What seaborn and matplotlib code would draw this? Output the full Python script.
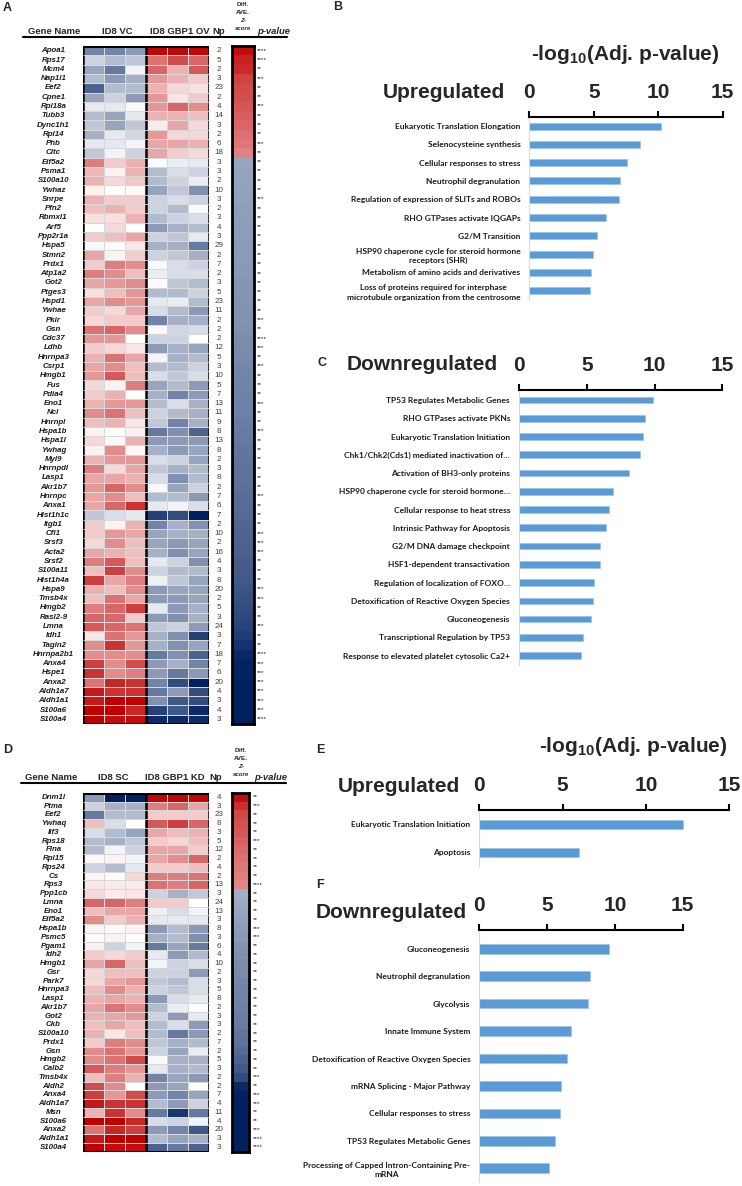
import numpy as np
import pandas as pd
import seaborn as sns
import matplotlib.pyplot as plt
from matplotlib import transforms
from matplotlib.colors import LinearSegmentedColormap

sns.set_theme(style='white')
plt.rcParams['font.family'] = ['Liberation Sans', 'DejaVu Sans']
plt.rcParams['mathtext.fontset'] = 'custom'
plt.rcParams['mathtext.rm'] = 'Liberation Sans'
plt.rcParams['mathtext.bf'] = 'Liberation Sans:bold'

# ---------------- data: heatmap A (ID8 VC vs ID8 GBP1 OV) ----------------
genes_a = ['Apoa1', 'Rps17', 'Mcm4', 'Nap1l1', 'Eef2', 'Cpne1', 'Rpl18a', 'Tubb3',
           'Dync1h1', 'Rpl14', 'Phb', 'Cltc', 'Eif5a2', 'Psma1', 'S100a10', 'Ywhaz',
           'Snrpe', 'Pfn2', 'Rbmxl1', 'Arf5', 'Ppp2r1a', 'Hspa5', 'Stmn2', 'Prdx1',
           'Atp1a2', 'Got2', 'Ptges3', 'Hspd1', 'Ywhae', 'Pkir', 'Gsn', 'Cdc37',
           'Ldhb', 'Hnrnpa3', 'Csrp1', 'Hmgb1', 'Fus', 'Pdia4', 'Eno1', 'Ncl',
           'Hnrnpl', 'Hspa1b', 'Hspa1l', 'Ywhag', 'Myl9', 'Hnrnpdl', 'Lasp1', 'Akr1b7',
           'Hnrnpc', 'Anxa1', 'Hist1h1c', 'Itgb1', 'Cfl1', 'Srsf3', 'Acta2', 'Srsf2',
           'S100a11', 'Hist1h4a', 'Hspa9', 'Tmsb4x', 'Hmgb2', 'Rasl2-9', 'Lmna', 'Idh1',
           'Tagln2', 'Hnrnpa2b1', 'Anxa4', 'Hspe1', 'Anxa2', 'Aldh1a7', 'Aldh1a1',
           'S100a6', 'S100a4']
np_a = [2, 5, 2, 3, 23, 2, 4, 14, 3, 2, 6, 18, 3, 3, 2, 10, 3, 2, 3, 4, 3, 29, 2, 7,
        2, 3, 5, 23, 11, 2, 2, 2, 12, 5, 3, 10, 5, 7, 13, 11, 9, 8, 13, 8, 2, 3, 8, 2,
        7, 6, 7, 2, 10, 2, 16, 4, 3, 8, 20, 2, 5, 3, 24, 3, 7, 18, 7, 6, 20, 4, 3, 4, 3]
pval_a = ['****', '****', '**', '***', '**', '**', '***', '**', '**', '**', '***', '**',
          '**', '**', '**', '**', '***', '**', '**', '**', '**', '**', '**', '**',
          '**', '**', '**', '**', '**', '***', '**', '****', '***', '**', '***', '**',
          '**', '**', '***', '**', '**', '***', '**', '**', '**', '**', '**', '**',
          '***', '**', '**', '**', '***', '***', '***', '**', '**', '**', '***', '***',
          '**', '**', '***', '**', '**', '****', '***', '***', '***', '***', '***',
          '***', '****']
# row z-scores: 3 x ID8 VC, 3 x ID8 GBP1 OV
expr_a = [
    [-0.55, -0.55, -0.45, 0.97, 0.97, 0.97], [-0.2, -0.3, -0.25, 0.55, 0.7, 0.6],
    [-0.4, -0.6, -0.05, 0.6, 0.3, 0.65], [-0.3, -0.45, -0.35, 0.4, 0.3, 0.2],
    [-0.7, -0.3, -0.3, 0.3, 0.15, 0.12], [-0.4, -0.2, -0.45, 0.4, 0.1, 0.2],
    [-0.1, -0.1, -0.03, 0.4, 0.6, 0.45], [-0.3, -0.4, -0.1, 0.3, 0.3, 0.25],
    [-0.25, -0.4, -0.25, 0.08, 0.35, 0.15], [-0.35, -0.1, -0.18, 0.4, 0.15, 0.15],
    [-0.1, -0.1, -0.05, 0.35, 0.35, 0.3], [-0.25, -0.05, -0.2, 0.35, 0.2, 0.15],
    [0.5, 0.2, 0.3, -0.02, -0.08, -0.1], [0.28, 0.05, 0.3, -0.3, -0.15, -0.2],
    [0.3, 0.15, 0.22, -0.3, -0.2, -0.08], [0.05, 0.0, 0.02, -0.4, -0.25, -0.5],
    [0.3, 0.2, 0.2, -0.2, -0.15, -0.2], [0.25, 0.3, 0.2, -0.2, -0.3, -0.03],
    [0.12, 0.12, 0.3, -0.3, -0.2, -0.15], [0.0, 0.15, 0.0, -0.45, -0.35, -0.3],
    [0.2, 0.25, 0.35, -0.2, -0.25, -0.1], [-0.03, -0.02, 0.1, -0.35, -0.35, -0.6],
    [0.35, 0.05, 0.2, -0.2, -0.25, -0.35], [0.2, 0.5, 0.45, -0.03, -0.15, -0.2],
    [0.5, 0.45, 0.25, -0.08, -0.15, -0.15], [0.35, 0.4, 0.45, 0.02, -0.25, -0.3],
    [0.12, 0.25, 0.4, -0.3, -0.3, -0.2], [0.35, 0.45, 0.4, -0.1, -0.08, -0.3],
    [0.2, 0.15, 0.35, -0.15, -0.3, -0.45], [0.15, 0.2, 0.2, -0.55, -0.35, -0.35],
    [0.55, 0.6, 0.45, 0.03, -0.18, -0.15], [0.4, 0.4, 0.0, -0.2, -0.2, 0.0],
    [0.2, 0.15, 0.1, -0.45, -0.35, -0.4], [0.3, 0.55, 0.35, -0.05, -0.35, -0.3],
    [0.35, 0.45, 0.25, -0.3, -0.3, -0.2], [0.4, 0.65, 0.25, -0.15, -0.25, -0.15],
    [0.15, 0.05, 0.5, -0.4, -0.3, -0.45], [0.2, 0.3, 0.0, -0.35, -0.55, -0.45],
    [0.3, 0.4, 0.4, -0.3, -0.15, -0.35], [0.45, 0.55, 0.25, -0.2, -0.3, -0.35],
    [0.25, 0.3, 0.1, -0.25, -0.55, -0.35], [0.05, 0.0, 0.07, -0.6, -0.5, -0.7],
    [0.15, -0.03, 0.3, -0.45, -0.45, -0.45], [0.05, 0.45, 0.02, -0.35, -0.45, -0.4],
    [0.3, 0.4, 0.4, -0.15, -0.2, -0.4], [0.5, 0.15, 0.35, -0.25, -0.35, -0.3],
    [0.35, 0.35, 0.3, -0.15, -0.5, -0.3], [0.4, 0.6, 0.45, -0.03, -0.4, -0.2],
    [0.35, 0.45, 0.25, -0.3, -0.3, -0.45], [0.35, 0.6, 0.8, -0.1, -0.05, -0.15],
    [-0.25, -0.15, -0.1, -0.85, -0.8, -1.0], [0.2, 0.05, 0.3, -0.55, -0.35, -0.5],
    [0.2, 0.4, 0.35, -0.4, -0.35, -0.35], [0.15, 0.45, 0.25, -0.4, -0.45, -0.4],
    [0.35, 0.3, 0.25, -0.35, -0.5, -0.4], [0.5, 0.65, 0.25, -0.1, -0.2, -0.5],
    [0.25, 0.75, 0.45, -0.2, -0.3, -0.3], [0.75, 0.35, 0.5, -0.07, -0.25, -0.4],
    [0.3, 0.25, 0.45, -0.45, -0.4, -0.4], [0.25, 0.55, 0.35, -0.45, -0.45, -0.4],
    [0.5, 0.6, 0.75, -0.1, -0.45, -0.35], [0.6, 0.6, 0.2, -0.45, -0.5, -0.35],
    [0.65, 0.6, 0.55, -0.25, -0.2, -0.45], [0.1, 0.55, 0.4, -0.35, -0.5, -0.85],
    [0.45, 0.8, 0.4, -0.35, -0.5, -0.4], [0.45, 0.45, 0.45, -0.6, -0.5, -0.7],
    [0.75, 0.45, 0.7, -0.45, -0.35, -0.55], [0.8, 0.45, 0.5, -0.45, -0.6, -0.45],
    [0.55, 0.85, 0.8, -0.55, -0.8, -1.0], [0.9, 0.8, 0.8, -0.6, -0.45, -0.8],
    [0.9, 1.0, 1.0, -0.5, -0.75, -0.8], [1.0, 1.0, 0.85, -0.85, -0.75, -0.95],
    [1.0, 0.95, 0.95, -0.95, -0.95, -0.95]]
diff_a = [0.95, 0.86, 0.83, 0.74, 0.71, 0.69, 0.66, 0.63, 0.6, 0.56, 0.53, 0.49,
          -0.40, -0.41, -0.41, -0.42, -0.42, -0.43, -0.43, -0.44, -0.44, -0.45, -0.45,
          -0.46, -0.46, -0.47, -0.47, -0.48, -0.49, -0.49, -0.50, -0.51, -0.52, -0.53,
          -0.54, -0.55, -0.55, -0.56, -0.57, -0.57, -0.58, -0.59, -0.60, -0.61, -0.62,
          -0.63, -0.63, -0.64, -0.65, -0.66, -0.67, -0.68, -0.69, -0.70, -0.71, -0.72,
          -0.73, -0.74, -0.76, -0.78, -0.80, -0.82, -0.84, -0.87, -0.91, -0.96, -0.98,
          -0.99, -1.0, -1.0, -1.0, -1.0, -1.0]

# ---------------- data: heatmap D (ID8 SC vs ID8 GBP1 KD) ----------------
genes_d = ['Dnm1l', 'Ptma', 'Eef2', 'Ywhaq', 'Ilf3', 'Rps18', 'Flna', 'Rpl15', 'Rps24',
           'Cs', 'Rps3', 'Ppp1cb', 'Lmna', 'Eno1', 'Eif5a2', 'Hspa1b', 'Psmc5', 'Pgam1',
           'Idh2', 'Hmgb1', 'Gsr', 'Park7', 'Hnrnpa3', 'Lasp1', 'Akr1b7', 'Got2', 'Ckb',
           'S100a10', 'Prdx1', 'Gsn', 'Hmgb2', 'Calb2', 'Tmsb4x', 'Aldh2', 'Anxa4',
           'Aldh1a7', 'Msn', 'S100a6', 'Anxa2', 'Aldh1a1', 'S100a4']
np_d = [4, 3, 23, 8, 3, 5, 12, 2, 4, 2, 13, 3, 24, 13, 3, 8, 3, 6, 4, 10, 2, 3, 5, 8, 2,
        3, 3, 2, 7, 2, 5, 3, 2, 2, 7, 4, 11, 4, 20, 3, 3]
pval_d = ['**', '***', '**', '**', '**', '***', '**', '**', '**', '**', '****', '**',
          '**', '**', '**', '***', '***', '**', '**', '**', '**', '**', '**', '**', '**',
          '**', '**', '**', '**', '**', '**', '**', '***', '**', '***', '***', '**', '**',
          '***', '****', '****']
expr_d = [
    [-0.45, -1.0, -1.0, 0.97, 0.97, 0.97], [-0.2, -0.35, -0.35, 0.5, 0.6, 0.35],
    [-0.6, -0.3, -0.3, 0.2, 0.2, 0.2], [0.25, -0.15, 0.0, 0.65, 0.75, 0.6],
    [-0.15, -0.3, -0.4, 0.35, 0.25, 0.3], [-0.3, -0.35, -0.25, 0.2, 0.15, 0.25],
    [-0.3, -0.05, -0.2, 0.35, 0.35, 0.2], [0.03, 0.05, -0.05, 0.35, 0.45, 0.6],
    [-0.2, -0.3, -0.1, 0.2, 0.2, 0.25], [0.05, -0.02, 0.15, 0.5, 0.5, 0.55],
    [0.1, 0.08, 0.08, 0.55, 0.5, 0.6], [0.15, 0.08, 0.1, -0.2, -0.35, -0.25],
    [0.6, 0.6, 0.5, 0.2, 0.2, 0.0], [0.25, 0.35, 0.35, -0.07, -0.15, -0.05],
    [0.45, 0.2, 0.3, -0.1, -0.1, -0.1], [0.05, -0.02, 0.05, -0.45, -0.3, -0.45],
    [0.02, 0.05, 0.0, -0.35, -0.3, -0.5], [0.07, -0.2, -0.05, -0.6, -0.4, -0.6],
    [0.2, 0.15, 0.2, -0.1, -0.45, -0.3], [0.35, 0.6, 0.25, -0.05, -0.2, -0.15],
    [0.15, 0.25, 0.25, -0.2, -0.2, -0.45], [0.15, 0.35, 0.4, -0.25, -0.3, -0.15],
    [0.25, 0.45, 0.3, -0.2, -0.25, -0.15], [0.3, 0.35, 0.3, -0.45, -0.15, -0.1],
    [0.35, 0.55, 0.45, -0.3, -0.08, 0.0], [0.3, 0.35, 0.4, -0.2, -0.45, -0.1],
    [0.25, 0.35, 0.25, -0.3, -0.15, -0.45], [0.3, 0.1, 0.25, -0.3, -0.6, -0.45],
    [0.2, 0.5, 0.45, -0.25, -0.35, -0.3], [0.45, 0.55, 0.4, -0.2, -0.4, -0.08],
    [0.45, 0.55, 0.7, -0.03, -0.35, -0.35], [0.65, 0.5, 0.4, -0.1, -0.35, -0.3],
    [0.25, 0.5, 0.3, -0.55, -0.4, -0.45], [0.7, 0.45, 0.0, -0.45, -0.4, 0.0],
    [0.75, 0.4, 0.7, -0.45, -0.55, -0.4], [0.9, 0.8, 0.8, -0.3, -0.45, -0.2],
    [0.3, 0.8, 0.45, -0.6, -0.9, -0.6], [1.0, 1.0, 0.85, -0.15, -0.2, -0.05],
    [0.55, 0.85, 0.75, -0.45, -0.55, -0.75], [0.9, 1.0, 1.0, -0.3, -0.4, -0.35],
    [1.0, 0.95, 0.95, -0.7, -0.6, -0.7]]
diff_d = [0.95, 0.82, 0.72, 0.68, 0.66, 0.62, 0.58, 0.55, 0.52, 0.5, 0.47,
          -0.36, -0.38, -0.40, -0.42, -0.44, -0.46, -0.48, -0.50, -0.51, -0.52, -0.54,
          -0.55, -0.56, -0.57, -0.58, -0.59, -0.61, -0.63, -0.66, -0.70, -0.74, -0.80,
          -0.96, -0.99, -1.0, -1.0, -1.0, -1.0, -1.0, -1.0]

# ---------------- data: enrichment bar charts ----------------
terms_b = ['Eukaryotic Translation Elongation', 'Selenocysteine synthesis',
           'Cellular responses to stress', 'Neutrophil degranulation',
           'Regulation of expression of SLITs and ROBOs', 'RHO GTPases activate IQGAPs',
           'G2/M Transition', 'HSP90 chaperone cycle for steroid hormone\nreceptors (SHR)',
           'Metabolism of amino acids and derivatives',
           'Loss of proteins required for interphase\nmicrotubule organization from the centrosome']
logp_b = [10.2, 8.6, 7.55, 7.03, 6.93, 5.95, 5.27, 4.96, 4.76, 4.68]

terms_c = ['TP53 Regulates Metabolic Genes', 'RHO GTPases activate PKNs',
           'Eukaryotic Translation Initiation', 'Chk1/Chk2(Cds1) mediated inactivation of…',
           'Activation of BH3-only proteins', 'HSP90 chaperone cycle for steroid hormone…',
           'Cellular response to heat stress', 'Intrinsic Pathway for Apoptosis',
           'G2/M DNA damage checkpoint', 'HSF1-dependent transactivation',
           'Regulation of localization of FOXO…', 'Detoxification of Reactive Oxygen Species',
           'Gluconeogenesis', 'Transcriptional Regulation by TP53',
           'Response to elevated platelet cytosolic Ca2+']
logp_c = [9.87, 9.3, 9.13, 8.93, 8.1, 6.91, 6.67, 6.42, 5.98, 5.95, 5.54, 5.44, 5.29,
          4.7, 4.55]

terms_e = ['Eukaryotic Translation Initiation', 'Apoptosis']
logp_e = [12.24, 5.96]

terms_f = ['Gluconeogenesis', 'Neutrophil degranulation', 'Glycolysis',
           'Innate Immune System', 'Detoxification of Reactive Oxygen Species',
           'mRNA Splicing - Major Pathway', 'Cellular responses to stress',
           'TP53 Regulates Metabolic Genes',
           'Processing of Capped Intron-Containing Pre-\nmRNA']
logp_f = [9.59, 8.16, 8.02, 6.79, 6.49, 6.03, 5.98, 5.58, 5.14]

# ---------------- figure ----------------
W, H = 742, 1186
fig = plt.figure(figsize=(W / 100, H / 100), dpi=100)
fig.patch.set_facecolor('white')
cmap = LinearSegmentedColormap.from_list('excel3', ['#002060', '#ffffff', '#c00000'])


def px_axes(l, t, r, b):
    return fig.add_axes([l / W, 1 - b / H, (r - l) / W, (b - t) / H])


def ftext(x, y, s, **kw):
    fig.text(x / W, 1 - y / H, s, **kw)


def fline(x0, x1, y, lw=1.5):
    fig.add_artist(plt.Line2D([x0 / W, x1 / W], [1 - y / H, 1 - y / H],
                              transform=fig.transFigure, color='black', lw=lw))


def heat_panel(top, bottom, genes, expr, nps, pvals, diff, diff_right, star_x):
    n = len(genes)
    ax = px_axes(83.3, top, 209.3, bottom)
    sns.heatmap(np.array(expr), ax=ax, cmap=cmap, vmin=-1, vmax=1, cbar=False,
                xticklabels=False, yticklabels=False, linewidths=0.6, linecolor='#d8d8d8')
    for x in (0, 3, 6):
        ax.axvline(x, color='black', lw=1.8, zorder=3)
    ax.hlines(np.arange(1, n), 0, 6, color='#d8d8d8', lw=0.6, zorder=4)
    ax.axhline(0, color='black', lw=2.2, zorder=5)
    ax.axhline(n, color='black', lw=2.2, zorder=5)
    tr = transforms.blended_transform_factory(fig.transFigure, ax.transData)
    for i, (g, k, p) in enumerate(zip(genes, nps, pvals)):
        ax.text(53.5 / W, i + 0.5, g, transform=tr, ha='center', va='center',
                fontsize=5.7, fontweight='bold', style='italic', color='#1a1a1a')
        ax.text(219 / W, i + 0.5, str(k), transform=tr, ha='center', va='center',
                fontsize=5.8, color='#404040')
        ax.text(star_x / W, i + 0.45, p, transform=tr, ha='left', va='center',
                fontsize=4.6, color='#1a1a1a')
    axd = px_axes(231.7, top, diff_right, bottom)
    sns.heatmap(np.array(diff)[:, None], ax=axd, cmap=cmap, vmin=-1, vmax=1, cbar=False,
                xticklabels=False, yticklabels=False)
    for s in axd.spines.values():
        s.set_visible(True)
        s.set_linewidth(2)
        s.set_color('black')


def heat_header(y, labels, xs, diff_x, diff_ys, line_x0, line_x1):
    for s, x in zip(labels, xs):
        ftext(x, y, s, ha='center', va='center', fontsize=6.8, fontweight='bold')
    ftext(xs[-1] + 55, y, 'p-value', ha='center', va='center', fontsize=6.8,
          fontweight='bold', style='italic')
    for s, yy, st in zip(['Diff.', 'AVE.', 'Z-', 'score'], diff_ys,
                         ['normal', 'normal', 'italic', 'italic']):
        ftext(diff_x, yy, s, ha='center', va='center', fontsize=4.4, fontweight='bold',
              style=st)
    fline(line_x0, line_x1, y + 4.5, lw=1.5)


def bar_panel(terms, vals, x0, x15, axis_y, first_y, step, bar_px):
    n = len(terms)
    bottom = first_y + step * (n - 1) + step / 2
    ax = px_axes(x0, axis_y, x15, bottom)
    df = pd.DataFrame({'term': terms, 'val': vals})
    sns.barplot(data=df, x='val', y='term', ax=ax, color='#5B9BD5', saturation=1,
                width=bar_px / step, orient='h', edgecolor='#9cc3e6', linewidth=0.5)
    ax.set_xlim(0, 15)
    ax.set_ylim((bottom - first_y) / step, (axis_y - first_y) / step)
    ax.set_xlabel('')
    ax.set_ylabel('')
    ax.xaxis.tick_top()
    ax.set_xticks([0, 5, 10, 15])
    ax.tick_params(axis='x', top=True, bottom=False, length=4, width=1.5, pad=7,
                   labelsize=15, direction='out', color='black')
    for t in ax.get_xticklabels():
        t.set_fontweight('bold')
    ax.tick_params(axis='y', left=False, length=0, pad=6.5, labelsize=6.0)
    for t in ax.get_yticklabels():
        t.set_fontweight('bold')
        t.set_family(['Lato', 'DejaVu Sans'])
        t.set_multialignment('center')
        t.set_linespacing(1.4)
        t.set_color('#1a1a1a')
    for side in ('right', 'bottom'):
        ax.spines[side].set_visible(False)
    ax.spines['top'].set_visible(True)
    ax.spines['top'].set_linewidth(1.5)
    ax.spines['top'].set_color('black')
    ax.spines['left'].set_visible(True)
    ax.spines['left'].set_color('#d9d9d9')
    ax.spines['left'].set_linewidth(0.8)
    return ax


# ---- A ----
ftext(3, 8, 'A', ha='left', va='center', fontsize=9, fontweight='bold')
heat_header(32, ['Gene Name', 'ID8 VC', 'ID8 GBP1 OV', 'Np'], [54, 117, 180, 219],
            243, [4, 12.5, 21, 29], 23, 287)
heat_panel(46.1, 724, genes_a, expr_a, np_a, pval_a, diff_a, 254.3, 256.7)

# ---- D ----
ftext(3, 750, 'D', ha='left', va='center', fontsize=9, fontweight='bold')
heat_header(778, ['Gene Name', 'ID8 SC', 'ID8 GBP1 KD', 'Np'], [51, 113, 175, 216],
            241, [750, 758, 766, 775], 21, 286)
heat_panel(792.9, 1151.7, genes_d, expr_d, np_d, pval_d, diff_d, 249.3, 253)

# ---- B ----
ftext(333, 7, 'B', ha='left', va='center', fontsize=9, fontweight='bold')
ftext(625, 55, r'-log$_{\mathbf{10}}$(Adj. p-value)', ha='center', va='center',
      fontsize=15, fontweight='bold')
ftext(444, 93, 'Upregulated', ha='center', va='center', fontsize=15, fontweight='bold')
bar_panel(terms_b, logp_b, 529.3, 722.7, 117, 126, 18.3, 7)

# ---- C ----
ftext(317, 363, 'C', ha='left', va='center', fontsize=9, fontweight='bold')
ftext(422, 365, 'Downregulated', ha='center', va='center', fontsize=15, fontweight='bold')
bar_panel(terms_c, logp_c, 519, 722.3, 390, 400, 18.26, 6.7)

# ---- E ----
ftext(316, 750, 'E', ha='left', va='center', fontsize=9, fontweight='bold')
ftext(633, 747, r'-log$_{\mathbf{10}}$(Adj. p-value)', ha='center', va='center',
      fontsize=15, fontweight='bold')
ftext(399, 787, 'Upregulated', ha='center', va='center', fontsize=15, fontweight='bold')
bar_panel(terms_e, logp_e, 479.3, 729.3, 810, 824.3, 28, 9)

# ---- F ----
ftext(316, 885, 'F', ha='left', va='center', fontsize=9, fontweight='bold')
ftext(391, 912, 'Downregulated', ha='center', va='center', fontsize=15, fontweight='bold')
bar_panel(terms_f, logp_f, 479.3, 682.7, 930, 948.7, 27.45, 9.7)

fig.savefig('out.png', dpi=100)
